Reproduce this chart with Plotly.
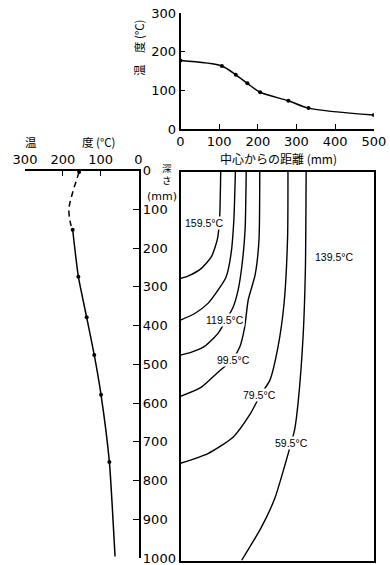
import plotly.graph_objects as go

# ---- Top chart: surface temperature vs distance from centre ----
surf_dist = [0, 107, 143, 173, 206, 279, 331, 500]
surf_temp = [177, 163, 140, 118, 95, 73, 54, 36]

# ---- Left chart: temperature vs depth at the centre ----
prof_dash_temp = [157, 177, 184, 180, 174]
prof_dash_depth = [4, 67, 101, 135, 153]
prof_temp = [174, 159, 137, 117, 99, 77, 62]
prof_depth = [153, 274, 379, 476, 579, 752, 996]
prof_marker_temp = [157, 174, 159, 137, 117, 99, 77]
prof_marker_depth = [4, 153, 274, 379, 476, 579, 752]

# ---- Isotherms (distance mm, depth mm) ----
iso_159_x = [104, 101, 95, 80, 54, 19, 0]
iso_159_d = [0, 125, 176, 219, 249, 269, 275]
iso_139_x = [142, 138, 131, 118, 97, 71, 37, 0]
iso_139_d = [0, 125, 210, 271, 305, 339, 365, 382]
iso_119_x = [170, 167, 159, 149, 136, 118, 97, 63, 27, 0]
iso_119_d = [0, 151, 241, 305, 349, 382, 416, 449, 465, 472]
iso_99_x = [205, 203, 193, 175, 166, 153, 133, 97, 53, 0]
iso_99_d = [0, 176, 266, 331, 400, 452, 485, 516, 555, 578]
iso_79_x = [278, 277, 268, 252, 231, 206, 180, 136, 71, 0]
iso_79_d = [0, 169, 338, 452, 537, 576, 624, 683, 725, 750]
iso_59_x = [325, 323, 317, 304, 295, 286, 270, 244, 209, 158]
iso_59_d = [0, 254, 426, 596, 665, 699, 755, 840, 915, 1000]

iso_labels = ["159.5°C", "139.5°C", "119.5°C", "99.5°C", "79.5°C", "59.5°C"]
iso_label_x = [62, 398, 114, 138, 204, 286]
iso_label_d = [133, 221, 382, 485, 575, 698]

W, H = 390, 565
def px(x):
    return x / W
def py(y):
    return 1 - y / H

TICKFONT = dict(family="DejaVu Sans", size=13, color="black")
JP = "Noto Sans CJK JP"

fig = go.Figure()

# top chart
fig.add_trace(go.Scatter(x=surf_dist, y=surf_temp, mode="lines+markers",
                         line=dict(color="black", width=1.5, shape="spline", smoothing=0.8),
                         marker=dict(color="black", size=4),
                         xaxis="x", yaxis="y", showlegend=False))

# isotherms
for xs, ds in [(iso_159_x, iso_159_d), (iso_139_x, iso_139_d), (iso_119_x, iso_119_d),
               (iso_99_x, iso_99_d), (iso_79_x, iso_79_d), (iso_59_x, iso_59_d)]:
    fig.add_trace(go.Scatter(x=xs, y=ds, mode="lines",
                             line=dict(color="black", width=1.4, shape="spline", smoothing=0.6),
                             xaxis="x2", yaxis="y2", showlegend=False))

# left profile
fig.add_trace(go.Scatter(x=prof_dash_temp, y=prof_dash_depth, mode="lines",
                         line=dict(color="black", width=1.5, dash="6px,4px", shape="spline"),
                         xaxis="x3", yaxis="y3", showlegend=False))
fig.add_trace(go.Scatter(x=prof_temp, y=prof_depth, mode="lines",
                         line=dict(color="black", width=1.5, shape="spline", smoothing=0.5),
                         xaxis="x3", yaxis="y3", showlegend=False))
fig.add_trace(go.Scatter(x=prof_marker_temp, y=prof_marker_depth, mode="markers",
                         marker=dict(color="black", size=4),
                         xaxis="x3", yaxis="y3", showlegend=False))

axis_common = dict(showgrid=False, zeroline=False, showline=True, linecolor="black",
                   linewidth=1.5, tickcolor="black", tickfont=TICKFONT, automargin=False,
                   ticklabeloverflow="allow")

xd = [180.5 / W, 373.8 / W]
fig.update_layout(
    template="none",
    width=W, height=H, margin=dict(l=0, r=0, t=0, b=0, pad=0), autosize=False,
    plot_bgcolor="white", paper_bgcolor="white",
    xaxis=dict(domain=xd, range=[0, 500], anchor="y", ticks="inside", ticklen=5,
               tickvals=[0, 100, 200, 300, 400, 500], **axis_common),
    yaxis=dict(domain=[py(129), py(13)], range=[0, 300], anchor="x", ticks="inside",
               ticklen=5, tickvals=[0, 100, 200, 300], **axis_common),
    xaxis2=dict(domain=xd, range=[0, 500], anchor="y2", showticklabels=False, ticks="",
                mirror=True, showline=True, linecolor="black", linewidth=1.5,
                showgrid=False, zeroline=False, automargin=False),
    yaxis2=dict(domain=[py(560.5), py(171.5)], range=[1000, 0], anchor="x2", ticks="",
                showticklabels=False, mirror=True, showline=True, linecolor="black",
                linewidth=1.5, showgrid=False, zeroline=False, automargin=False),
    xaxis3=dict(domain=[25 / W, 138.5 / W], range=[300, 0], anchor="y3", side="top",
                ticks="inside", ticklen=6, tickvals=[0, 100, 200, 300], **axis_common),
    yaxis3=dict(domain=[py(558), py(170.5)], range=[1000, 0], anchor="x3", side="right",
                ticks="inside", ticklen=6,
                tickvals=[0, 100, 200, 300, 400, 500, 600, 700, 800, 900, 1000],
                **axis_common),
)

anns = []
for t, x, d in zip(iso_labels, iso_label_x, iso_label_d):
    anns.append(dict(x=x, y=d, xref="x2", yref="y2", text=t, showarrow=False,
                     xanchor="center", yanchor="middle",
                     font=dict(family="Liberation Sans", size=10.5, color="black"),
                     bgcolor="white", borderpad=0))

def pann(x, y, text, size, family=JP, **kw):
    d = dict(x=px(x), y=py(y), xref="paper", yref="paper", text=text, showarrow=False,
             xanchor=kw.pop("xanchor", "center"), yanchor="middle",
             font=dict(family=family, size=size, color="black"))
    d.update(kw)
    return d

anns += [
    pann(278, 158, "中心からの距離 (mm)", 12),
    pann(139, 48, "温　度 (°C)", 11.5, textangle=-90),
    pann(31, 142, "温", 11.5),
    pann(80, 142, "度 (°C)", 11.5, xanchor="left"),
    pann(167, 174, "深<br>さ", 9.5),
    pann(162, 196, "(mm)", 11, family="DejaVu Sans"),
]
fig.update_layout(annotations=anns)

fig.write_html("out.html")
